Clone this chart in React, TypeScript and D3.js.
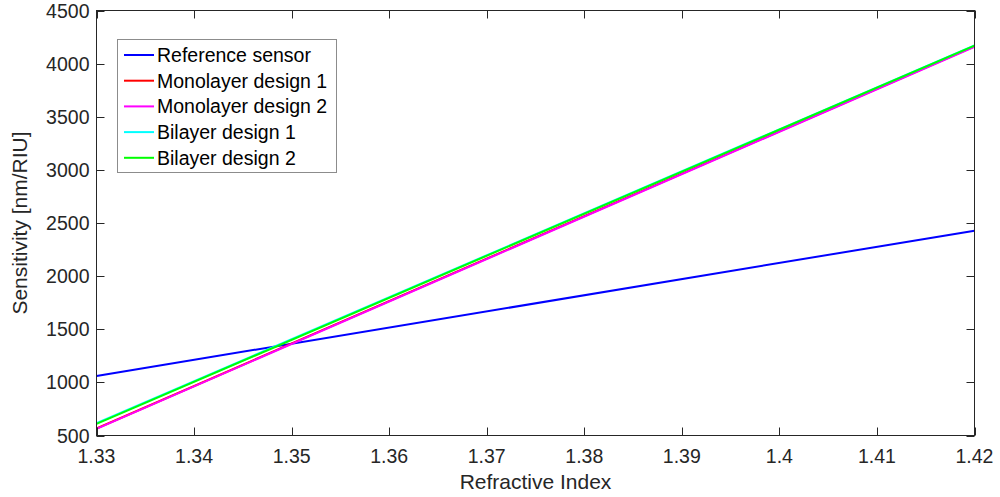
import React, { useEffect, useRef } from "react";
import * as d3 from "d3";

const xValues = [1.33, 1.42];
const referenceSensor = [1060, 2428];
const monolayer1 = [566, 4163];
const monolayer2 = [562, 4158];
const bilayer1 = [616, 4172];
const bilayer2 = [609, 4170];

const seriesNames = [
  "Reference sensor",
  "Monolayer design 1",
  "Monolayer design 2",
  "Bilayer design 1",
  "Bilayer design 2",
];
const seriesColors = ["#0000ff", "#ff0000", "#ff00ff", "#00ffff", "#00ff00"];
const seriesValues = [referenceSensor, monolayer1, monolayer2, bilayer1, bilayer2];

const xTicks = [1.33, 1.34, 1.35, 1.36, 1.37, 1.38, 1.39, 1.4, 1.41, 1.42];
const yTicks = [500, 1000, 1500, 2000, 2500, 3000, 3500, 4000, 4500];

const W = 1000;
const H = 497;
const left = 96.5;
const right = 974.5;
const top = 10.5;
const bottom = 435.5;
const FONT = "Liberation Sans, Arial, sans-serif";
const AX = "#262626";

export default function App() {
  const ref = useRef<SVGSVGElement>(null);
  useEffect(() => {
    const svg = d3.select(ref.current);
    svg.selectAll("*").remove();
    const x = d3.scaleLinear().domain([1.33, 1.42]).range([left, right]);
    const y = d3.scaleLinear().domain([500, 4500]).range([bottom, top]);

    svg.append("rect").attr("width", W).attr("height", H).attr("fill", "#fff");

    const g = svg.append("g");
    const line = d3
      .line<number>()
      .x((_, i) => x(xValues[i]))
      .y((d) => y(d));

    seriesValues.forEach((vals, i) => {
      g.append("path")
        .attr("d", line(vals) as string)
        .attr("fill", "none")
        .attr("stroke", seriesColors[i])
        .attr("stroke-width", 2);
    });

    svg
      .append("rect")
      .attr("x", left)
      .attr("y", top)
      .attr("width", right - left)
      .attr("height", bottom - top)
      .attr("fill", "none")
      .attr("stroke", AX)
      .attr("stroke-width", 1);

    const tl = 8;
    xTicks.forEach((t) => {
      const px = Math.round(x(t)) + 0.5;
      svg.append("line").attr("x1", px).attr("x2", px).attr("y1", bottom).attr("y2", bottom - tl).attr("stroke", AX);
      svg.append("line").attr("x1", px).attr("x2", px).attr("y1", top).attr("y2", top + tl).attr("stroke", AX);
      svg
        .append("text")
        .attr("x", x(t))
        .attr("y", bottom + 27)
        .attr("text-anchor", "middle")
        .attr("font-family", FONT)
        .attr("font-size", 19.5)
        .attr("fill", AX)
        .text(String(t));
    });
    yTicks.forEach((t) => {
      const py = Math.round(y(t)) + 0.5;
      svg.append("line").attr("x1", left).attr("x2", left + tl).attr("y1", py).attr("y2", py).attr("stroke", AX);
      svg.append("line").attr("x1", right).attr("x2", right - tl).attr("y1", py).attr("y2", py).attr("stroke", AX);
      svg
        .append("text")
        .attr("x", left - 7)
        .attr("y", y(t) + 7)
        .attr("text-anchor", "end")
        .attr("font-family", FONT)
        .attr("font-size", 19.5)
        .attr("fill", AX)
        .text(String(t));
    });

    svg
      .append("text")
      .attr("x", (left + right) / 2)
      .attr("y", 489)
      .attr("text-anchor", "middle")
      .attr("font-family", FONT)
      .attr("font-size", 21)
      .attr("fill", AX)
      .text("Refractive Index");
    svg
      .append("text")
      .attr("transform", `translate(27,${(top + bottom) / 2}) rotate(-90)`)
      .attr("text-anchor", "middle")
      .attr("font-family", FONT)
      .attr("font-size", 21)
      .attr("fill", AX)
      .text("Sensitivity [nm/RIU]");

    const lg = svg.append("g");
    lg.append("rect")
      .attr("x", 117.5)
      .attr("y", 39.5)
      .attr("width", 219)
      .attr("height", 133)
      .attr("fill", "#fff")
      .attr("stroke", "#8c8c8c")
      .attr("stroke-width", 1);
    seriesNames.forEach((n, i) => {
      const cy = 55 + i * 25.7;
      lg.append("line")
        .attr("x1", 124)
        .attr("x2", 154)
        .attr("y1", cy)
        .attr("y2", cy)
        .attr("stroke", seriesColors[i])
        .attr("stroke-width", 2);
      lg.append("text")
        .attr("x", 157)
        .attr("y", cy + 7)
        .attr("font-family", FONT)
        .attr("font-size", 19.5)
        .attr("fill", "#000")
        .text(n);
    });
  }, []);
  return (
    <svg
      ref={ref}
      width={W}
      height={H}
      style={{ position: "absolute", left: 0, top: 0, display: "block" }}
    />
  );
}
